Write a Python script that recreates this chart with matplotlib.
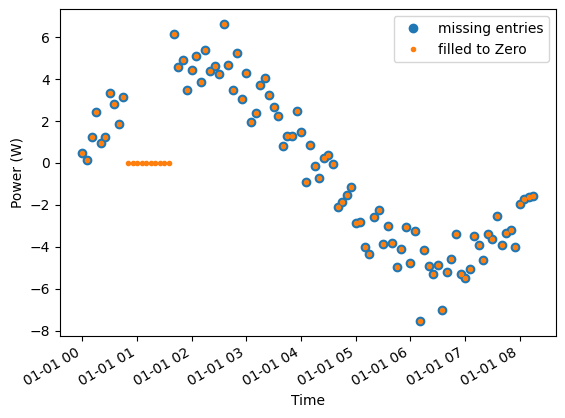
import matplotlib
matplotlib.use('Agg')
import matplotlib.pyplot as plt
import numpy as np
import pandas as pd

# readings every 5 minutes
power = [0.49, 0.16, 1.25, 2.43, 0.95, 1.25, 3.33, 2.82, 1.87, 3.16,
         np.nan, np.nan, np.nan, np.nan, np.nan, np.nan, np.nan, np.nan, np.nan, np.nan,
         6.16, 4.59, 4.92, 3.49, 4.44, 5.11, 3.86, 5.40, 4.40, 4.63,
         4.24, 6.62, 4.68, 3.49, 5.24, 3.05, 4.29, 1.97, 2.40, 3.73,
         4.06, 3.25, 2.68, 2.25, 0.82, 1.30, 1.30, 2.49, 1.49, -0.89,
         0.87, -0.14, -0.71, 0.24, 0.40, -0.03, -2.08, -1.86, -1.51, -1.13,
         -2.84, -2.81, -3.99, -4.33, -2.57, -2.24, -3.84, -3.00, -3.81, -4.94,
         -4.08, -3.05, -4.75, -3.22, -7.52, -4.13, -4.89, -5.27, -4.87, -7.00,
         -5.19, -4.56, -3.38, -5.27, -5.48, -5.03, -3.46, -3.89, -4.60, -3.37,
         -3.60, -2.51, -3.92, -3.33, -3.18, -3.99, -1.95, -1.70, -1.64, -1.57]

time = pd.date_range('2020-01-01 00:00', periods=len(power), freq='5min')
df = pd.Series(power, index=time)
df_filled = df.fillna(0)

fig, ax = plt.subplots(figsize=(5.65, 4.18), dpi=100)
fig.subplots_adjust(left=0.106, right=0.984, top=0.978, bottom=0.197)

ax.plot(df.index, df.values, 'o', label='missing entries')
ax.plot(df_filled.index, df_filled.values, '.', label='filled to Zero')

ax.set_xlabel('Time')
ax.set_ylabel('Power (W)')
ax.legend(loc='upper right')
fig.autofmt_xdate()
fig.subplots_adjust(left=0.106, right=0.984, top=0.978, bottom=0.197)

plt.savefig('out.png')
